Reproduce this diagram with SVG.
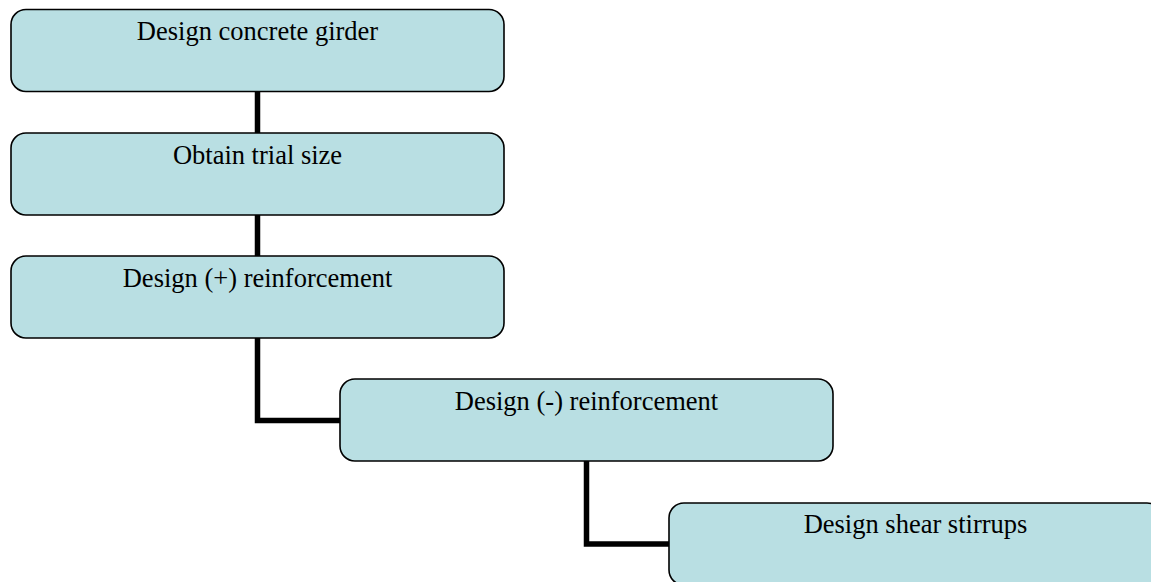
<svg xmlns="http://www.w3.org/2000/svg" width="1151" height="582" viewBox="0 0 1151 582">
  <style>
    .box { fill: #B9DFE3; stroke: #000; stroke-width: 1.6; }
    .lbl { font-family: "Liberation Serif", "Times New Roman", serif; font-size: 26.5px; fill: #000; text-anchor: middle; }
    .conn { fill: none; stroke: #000; stroke-width: 5.5; stroke-linejoin: miter; stroke-linecap: butt; }
  </style>
  <rect width="1151" height="582" fill="#fff"/>
  <g id="connectors">
    <path class="conn" d="M257.5,91 V134"/>
    <path class="conn" d="M257.5,214 V257"/>
    <path class="conn" d="M257.5,337 V420.5 H341"/>
    <path class="conn" d="M586.5,460 V544 H670"/>
  </g>
  <g id="node1">
    <rect class="box" x="11" y="9.5" width="493" height="82" rx="15" ry="15"/>
    <text class="lbl" x="257.5" y="40">Design concrete girder</text>
  </g>
  <g id="node2">
    <rect class="box" x="11" y="133" width="493" height="82" rx="15" ry="15"/>
    <text class="lbl" x="257.5" y="163.5">Obtain trial size</text>
  </g>
  <g id="node3">
    <rect class="box" x="11" y="256" width="493" height="82" rx="15" ry="15"/>
    <text class="lbl" x="257.5" y="286.5">Design (+) reinforcement</text>
  </g>
  <g id="node4">
    <rect class="box" x="340" y="379" width="493" height="82" rx="15" ry="15"/>
    <text class="lbl" x="586.5" y="409.5">Design (-) reinforcement</text>
  </g>
  <g id="node5">
    <rect class="box" x="669" y="503" width="493" height="82" rx="15" ry="15"/>
    <text class="lbl" x="915.5" y="533">Design shear stirrups</text>
  </g>
</svg>
